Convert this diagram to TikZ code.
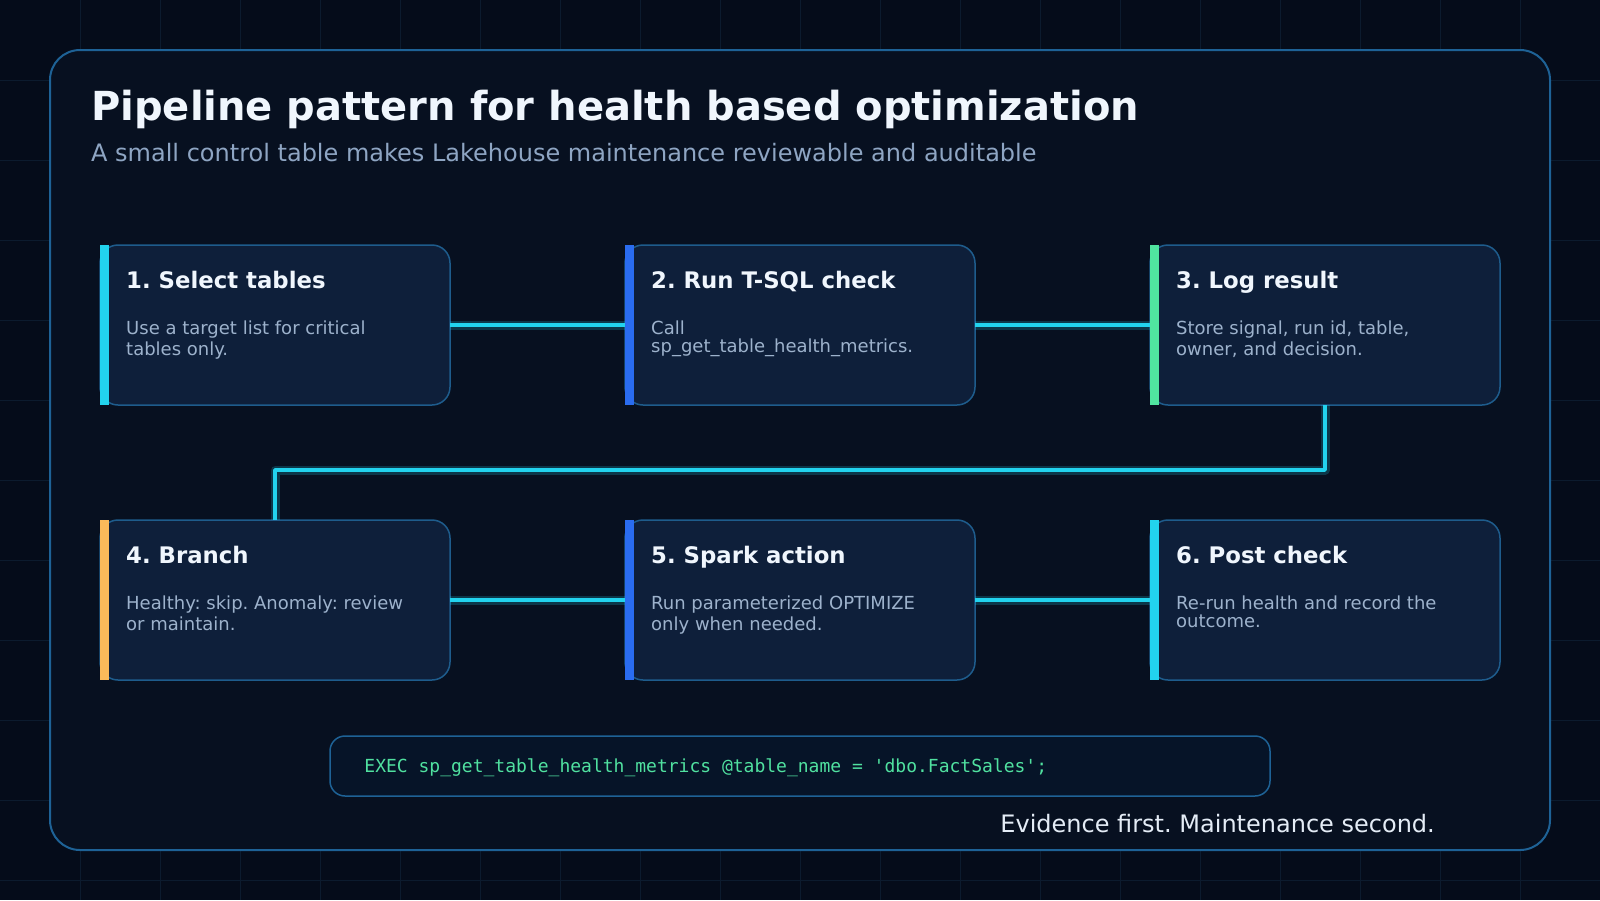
\documentclass[tikz,border=0pt]{standalone}
\usepackage{fontspec}
\setmainfont{DejaVu Sans}
\setmonofont{DejaVu Sans Mono}
\frenchspacing
\usetikzlibrary{positioning,calc}
\definecolor{bgcol}{RGB}{5,12,26}
\definecolor{gridcol}{RGB}{12,27,46}
\definecolor{panelfill}{RGB}{7,16,32}
\definecolor{panelline}{RGB}{30,98,150}
\definecolor{boxfill}{RGB}{14,31,58}
\definecolor{boxline}{RGB}{30,92,140}
\definecolor{codefill}{RGB}{6,20,40}
\definecolor{titlecol}{RGB}{240,246,253}
\definecolor{subcol}{RGB}{142,165,195}
\definecolor{bodycol}{RGB}{157,178,204}
\definecolor{mottocol}{RGB}{228,236,246}
\definecolor{linkcol}{RGB}{34,211,238}
\definecolor{accyan}{RGB}{34,211,238}
\definecolor{acblue}{RGB}{42,108,240}
\definecolor{acgreen}{RGB}{80,228,160}
\definecolor{acorange}{RGB}{250,186,90}
\definecolor{codecol}{RGB}{80,225,160}

\begin{document}
\begin{tikzpicture}[
    x=1pt, y=-1pt,
    gridline/.style={draw=gridcol, line width=1pt},
    panel/.style={draw=panelline, fill=panelfill, line width=2pt, rounded corners=30pt,
                  minimum width=1500pt, minimum height=800pt, inner sep=0pt, outer sep=0pt},
    stepbox/.style={draw=boxline, fill=boxfill, line width=1.5pt, rounded corners=18pt,
                    minimum width=350pt, minimum height=160pt, inner sep=0pt, outer sep=0pt},
    accbar/.style={fill=#1, minimum width=9pt, minimum height=160pt, inner sep=0pt, outer sep=0pt},
    steptitle/.style={anchor=base west, inner sep=0pt, text=titlecol,
                      font=\fontsize{22.8}{28}\selectfont\bfseries},
    stepbody/.style={anchor=base west, inner sep=0pt, text=bodycol, align=left,
                     font=\fontsize{18}{#1}\selectfont},
    stepbody/.default=21.5,
    glow/.style={draw=linkcol, draw opacity=0.2, line width=9pt},
    link/.style={draw=linkcol, line width=3.5pt},
    node distance=175pt,
]
\useasboundingbox (0,0) rectangle (1600,900);
\fill[bgcol] (0,0) rectangle (1600,900);

% ============ GRID ============
\foreach \gx in {80,160,...,1520}
  \draw[gridline] (\gx,0) -- (\gx,900);
\foreach \gy in {80,160,...,880}
  \draw[gridline] (0,\gy) -- (1600,\gy);

% ============ PANEL + HEADINGS ============
\node[panel, anchor=north west] (frame) at (50,50) {};
\node[anchor=base west, inner sep=0pt, text=titlecol, font=\fontsize{40}{48}\selectfont\bfseries]
  (title) at (91,120) {Pipeline pattern for health based optimization};
\node[anchor=base west, inner sep=0pt, text=subcol, font=\fontsize{24}{29}\selectfont]
  (subtitle) at (91,161) {A small control table makes Lakehouse maintenance reviewable and auditable};

% ============ ROW 1 ============
\node[stepbox, anchor=north west] (b1) at (100,245) {};
\node[stepbox, right=of b1] (b2) {};
\node[stepbox, right=of b2] (b3) {};

% ============ ROW 2 ============
\node[stepbox, below=115pt of b1] (b4) {};
\node[stepbox, right=of b4] (b5) {};
\node[stepbox, right=of b5] (b6) {};

% ============ CONNECTORS ============
\coordinate (bend) at (0,470);
\foreach \src/\dst in {b1/b2, b2/b3, b4/b5, b5/b6} {
  \draw[glow] (\src) -- (\dst);
  \draw[link] (\src) -- (\dst);
}
\draw[glow, line join=round] (b3.south) -- (b3.south |- bend) -| (b4.north);
\draw[link, line join=round] (b3.south) -- (b3.south |- bend) -| (b4.north);

% ============ ACCENT BARS ============
\node[accbar=accyan, anchor=north west] (a1) at (b1.north west) {};
\node[accbar=acblue, anchor=north west] (a2) at (b2.north west) {};
\node[accbar=acgreen, anchor=north west] (a3) at (b3.north west) {};
\node[accbar=acorange, anchor=north west] (a4) at (b4.north west) {};
\node[accbar=acblue, anchor=north west] (a5) at (b5.north west) {};
\node[accbar=accyan, anchor=north west] (a6) at (b6.north west) {};

% ============ STEP TEXT ============
% body nodes sit on the baseline of their last line
\node[steptitle] (b1t) at ($(b1.north west)+(26,43)$) {1. Select tables};
\node[stepbody] (b1d) at ($(b1.north west)+(26,110.5)$) {Use a target list for critical\\tables only.};

\node[steptitle] (b2t) at ($(b2.north west)+(26,43)$) {2. Run T-SQL check};
\node[stepbody=18] (b2d) at ($(b2.north west)+(26,107)$) {Call\\sp\_get\_table\_health\_metrics.};

\node[steptitle] (b3t) at ($(b3.north west)+(26,43)$) {3. Log result};
\node[stepbody] (b3d) at ($(b3.north west)+(26,110.5)$) {Store signal, run id, table,\\owner, and decision.};

\node[steptitle] (b4t) at ($(b4.north west)+(26,43)$) {4. Branch};
\node[stepbody] (b4d) at ($(b4.north west)+(26,110.5)$) {Healthy: skip. Anomaly: review\\or maintain.};

\node[steptitle] (b5t) at ($(b5.north west)+(26,43)$) {5. Spark action};
\node[stepbody] (b5d) at ($(b5.north west)+(26,110.5)$) {Run parameterized OPTIMIZE\\only when needed.};

\node[steptitle] (b6t) at ($(b6.north west)+(26,43)$) {6. Post check};
\node[stepbody=18] (b6d) at ($(b6.north west)+(26,107)$) {Re-run health and record the\\outcome.};

% ============ CODE + MOTTO ============
\node[draw=panelline, fill=codefill, line width=1.5pt, rounded corners=15pt,
      minimum width=940pt, minimum height=60pt, inner sep=0pt] (code) at (800,766) {};
\node[anchor=base west, inner sep=0pt, text=codecol, font=\fontsize{18}{21}\selectfont\ttfamily]
  (codeline) at ($(code.west)+(35,6)$) {EXEC sp\_get\_table\_health\_metrics @table\_name = 'dbo.FactSales';};
\node[anchor=base east, inner sep=0pt, text=mottocol, font=\fontsize{24}{29}\selectfont]
  (motto) at (1435,832) {Evidence first. Maintenance second.};

\end{tikzpicture}
\end{document}
